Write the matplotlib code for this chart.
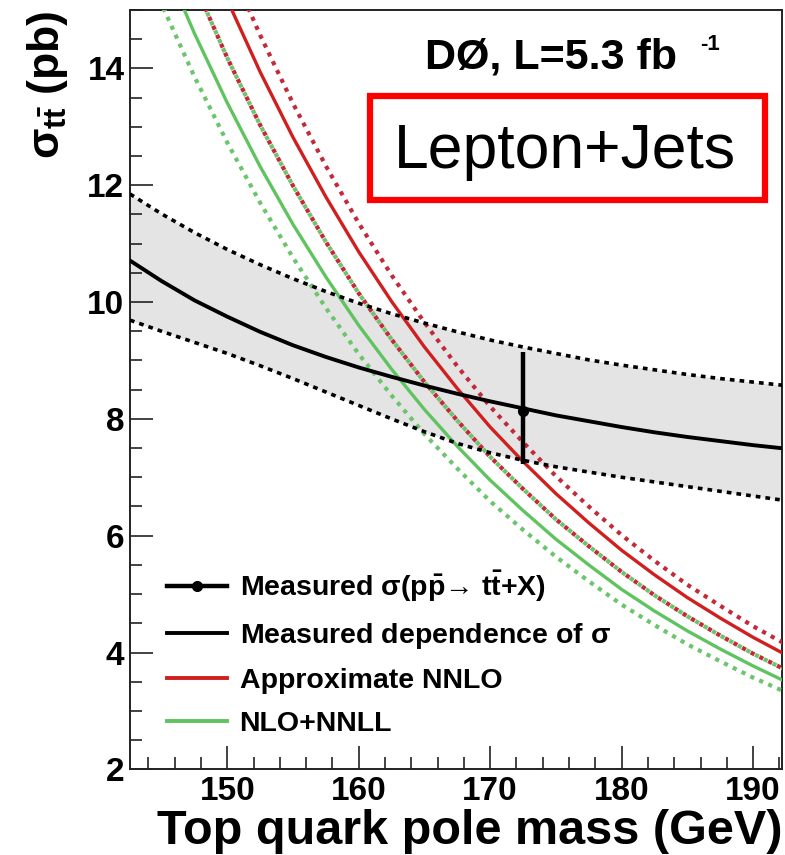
import matplotlib
matplotlib.use("Agg")
import matplotlib.pyplot as plt
from matplotlib.lines import Line2D
from matplotlib.patches import Rectangle
from matplotlib.ticker import MultipleLocator

plt.rcParams['font.family'] = ['Liberation Sans', 'DejaVu Sans']
plt.rcParams['font.weight'] = 'bold'
plt.rcParams['mathtext.fontset'] = 'custom'
plt.rcParams['mathtext.rm'] = 'Liberation Sans:bold'
plt.rcParams['mathtext.it'] = 'Liberation Sans:bold'
plt.rcParams['mathtext.bf'] = 'Liberation Sans:bold'
plt.rcParams['mathtext.sf'] = 'Liberation Sans:bold'

# Measured cross-section dependence on the top mass (central, +1 sd, -1 sd)
mass_fit = [142.6, 145, 147.5, 150, 152.5, 155, 157.5, 160, 162.5, 165, 167.5,
            170, 172.5, 175, 177.5, 180, 182.5, 185, 187.5, 190, 192.5]
sigma_fit = [10.71, 10.36, 10.03, 9.75, 9.49, 9.26, 9.06, 8.88, 8.72, 8.57, 8.43,
             8.30, 8.18, 8.06, 7.96, 7.86, 7.77, 7.69, 7.62, 7.55, 7.49]
sigma_fit_hi = [11.85, 11.51, 11.19, 10.90, 10.64, 10.40, 10.18, 9.98, 9.80, 9.64, 9.49,
                9.35, 9.23, 9.12, 9.01, 8.92, 8.84, 8.76, 8.69, 8.63, 8.57]
sigma_fit_lo = [9.69, 9.50, 9.31, 9.12, 8.91, 8.69, 8.46, 8.23, 8.00, 7.78, 7.58,
                7.42, 7.29, 7.18, 7.09, 7.00, 6.92, 6.84, 6.76, 6.68, 6.60]

# Theory predictions vs top quark pole mass
mass_theory = [142.5, 145, 147.5, 150, 152.5, 155, 157.5, 160, 162.5, 165, 167.5,
               170, 172.5, 175, 177.5, 180, 182.5, 185, 187.5, 190, 192.5]
nnlo = [19.63, 18.0, 16.52, 15.17, 13.94, 12.82, 11.80, 10.86, 10.01, 9.23, 8.52,
        7.86, 7.27, 6.72, 6.22, 5.75, 5.33, 4.94, 4.59, 4.26, 3.96]
nnlo_hi = [20.51, 18.81, 17.26, 15.85, 14.57, 13.40, 12.33, 11.35, 10.46, 9.65, 8.90,
           8.21, 7.60, 7.02, 6.50, 6.01, 5.57, 5.16, 4.80, 4.45, 4.14]
nnlo_lo = [18.35, 16.83, 15.45, 14.18, 13.03, 11.99, 11.03, 10.15, 9.36, 8.63, 7.97,
           7.35, 6.80, 6.28, 5.82, 5.38, 4.98, 4.62, 4.29, 3.98, 3.70]
nlo_nnll = [17.35, 15.91, 14.60, 13.41, 12.32, 11.33, 10.43, 9.60, 8.85, 8.16, 7.53,
            6.95, 6.43, 5.94, 5.50, 5.08, 4.71, 4.37, 4.06, 3.77, 3.50]
nlo_nnll_hi = [18.35, 16.83, 15.45, 14.18, 13.03, 11.99, 11.03, 10.15, 9.36, 8.63, 7.97,
               7.35, 6.80, 6.28, 5.82, 5.38, 4.98, 4.62, 4.29, 3.98, 3.70]
nlo_nnll_lo = [16.47, 15.10, 13.86, 12.73, 11.70, 10.76, 9.90, 9.11, 8.40, 7.74, 7.15,
               6.59, 6.10, 5.64, 5.22, 4.82, 4.47, 4.14, 3.85, 3.57, 3.32]

# Measured cross section at the reference mass
meas_mass = 172.5
meas_sigma = 8.13
meas_err_up = 1.02
meas_err_dn = 0.90

x_ticks = [150, 160, 170, 180, 190]
y_ticks = [2, 4, 6, 8, 10, 12, 14]

RED = '#d01f1f'
RED_DOT = '#c22a38'
GREEN = '#5fc45f'
GREEN_DOT = '#6cc46c'
BAND = '#e4e4e4'

fig = plt.figure(figsize=(7.85, 8.55), dpi=100)
ax = fig.add_axes([0.1656, 0.1002, 0.8306, 0.8881])

# uncertainty band of the measured dependence
ax.fill_between(mass_fit, sigma_fit_lo, sigma_fit_hi, color=BAND, lw=0, zorder=1)

dot = (0, (1.0, 1.35))
dot_shift = (1.175, (1.0, 1.35))
ax.plot(mass_theory, nnlo_hi, color=RED_DOT, lw=3.0, ls=dot, zorder=3)
ax.plot(mass_theory, nnlo_lo, color=RED_DOT, lw=3.0, ls=dot, zorder=3)
ax.plot(mass_theory, nlo_nnll_hi, color=GREEN_DOT, lw=3.0, ls=dot_shift, zorder=3)
ax.plot(mass_theory, nlo_nnll_lo, color=GREEN_DOT, lw=3.0, ls=dot, zorder=3)
ax.plot(mass_theory, nnlo, color=RED, lw=2.4, zorder=4)
ax.plot(mass_theory, nlo_nnll, color=GREEN, lw=2.4, zorder=4)

ax.plot(mass_fit, sigma_fit_hi, color='black', lw=2.6, ls=(0, (1.3, 1.4)), zorder=5)
ax.plot(mass_fit, sigma_fit_lo, color='black', lw=2.6, ls=(0, (1.3, 1.4)), zorder=5)
ax.plot(mass_fit, sigma_fit, color='black', lw=2.8, zorder=5)

ax.errorbar([meas_mass], [meas_sigma], yerr=[[meas_err_dn], [meas_err_up]],
            fmt='o', color='black', ms=7, elinewidth=3.2, capsize=0, zorder=6)

ax.set_xlim(142.6, 192.2)
ax.set_ylim(2, 15)
ax.set_xticks(x_ticks)
ax.set_yticks(y_ticks)
ax.xaxis.set_minor_locator(MultipleLocator(2))
ax.yaxis.set_minor_locator(MultipleLocator(0.5))
ax.tick_params(which='both', direction='in', top=False, right=False,
               width=1.2, color='#222222')
ax.tick_params(which='major', length=16.5)
ax.tick_params(which='minor', length=8.5)
ax.tick_params(axis='x', which='major', pad=5, labelsize=24)
ax.tick_params(axis='y', which='major', pad=4, labelsize=24)
for lab in ax.get_xticklabels() + ax.get_yticklabels():
    lab.set_fontweight('bold')
for sp in ax.spines.values():
    sp.set_linewidth(1.4)
    sp.set_color('#222222')

ax.set_xlabel('Top quark pole mass (GeV)', fontsize=35, fontweight='bold')
ax.xaxis.set_label_coords(1.0, -0.0516)
ax.xaxis.label.set_horizontalalignment('right')
ax.set_ylabel(r'$\sigma_{\mathrm{t\bar{t}}}$ (pb)', fontsize=32, fontweight='bold', loc='top')
ax.yaxis.set_label_coords(-0.092, 1.0)

# experiment and luminosity label
ax.text(0.4525, 0.9232, 'DØ, L=5.3 fb', transform=ax.transAxes, fontsize=31,
        fontweight='bold', ha='left', va='baseline', zorder=7)
ax.text(0.874, 0.9473, '-1', transform=ax.transAxes, fontsize=16,
        fontweight='bold', ha='left', va='baseline', zorder=7)

# channel box
ax.add_patch(Rectangle((0.368, 0.7498), 0.606, 0.1369, transform=ax.transAxes,
                       facecolor='white', edgecolor='#ff0000', lw=4.5, zorder=7))
ax.text(0.667, 0.7919, 'Lepton+Jets', transform=ax.transAxes, fontsize=45,
        fontweight='normal', ha='center', va='baseline', zorder=8)

handles = [
    Line2D([], [], color='black', lw=3.2, marker='o', ms=7),
    Line2D([], [], color='black', lw=2.8),
    Line2D([], [], color=RED, lw=2.8),
    Line2D([], [], color=GREEN, lw=2.8),
]
labels = [
    r'Measured $\sigma$(p$\mathrm{\bar{p}}$→ t$\mathrm{\bar{t}}$+X)',
    r'Measured dependence of $\sigma$',
    'Approximate NNLO',
    'NLO+NNLL',
]
leg = ax.legend(handles, labels, loc='upper left', bbox_to_anchor=(0.0567, 0.264),
                borderaxespad=0, borderpad=0, frameon=False, handlelength=2.1,
                handletextpad=0.45, labelspacing=0.6, numpoints=1,
                prop={'size': 20.5, 'weight': 'bold'})
leg.set_zorder(9)

fig.savefig('out.png', dpi=100)
